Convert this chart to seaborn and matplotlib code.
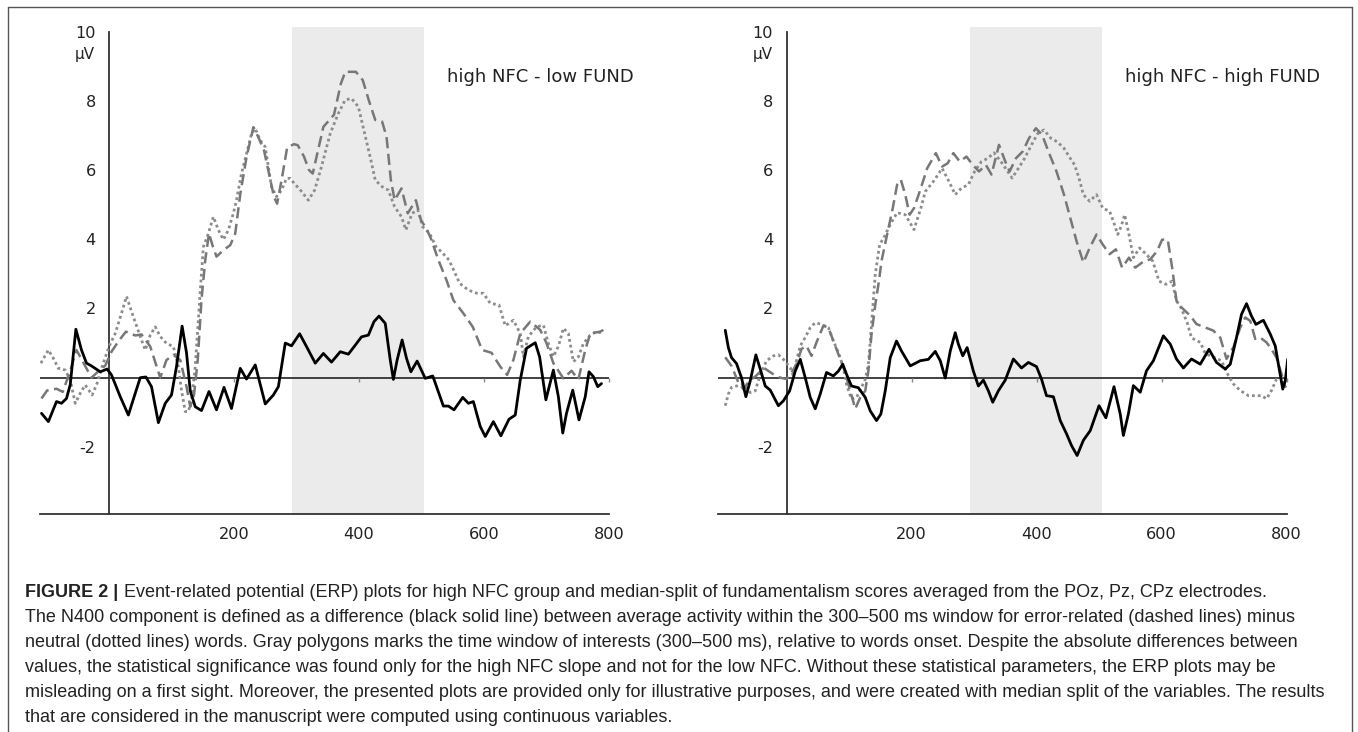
import matplotlib
matplotlib.use('Agg')
import matplotlib.pyplot as plt
import pandas as pd
import seaborn as sns
from matplotlib.lines import Line2D

# ERP traces: (time in ms, amplitude in uV)
left_diff = [(-108, -1.03), (-97, -1.27), (-84, -0.69), (-76, -0.74), (-68, -0.6), (-62, -0.2),
             (-53, 1.40), (-44, 0.80), (-36, 0.42), (-28, 0.34), (-14, 0.17), (-3, 0.25), (4, 0.08),
             (18, -0.55), (31, -1.08), (42, -0.45), (50, 0.0), (59, 0.02), (68, -0.26), (79, -1.3),
             (90, -0.74), (100, -0.5), (108, 0.32), (117, 1.49), (124, 0.72), (130, -0.38),
             (138, -0.84), (148, -0.95), (160, -0.4), (172, -0.93), (184, -0.28), (196, -0.89),
             (210, 0.27), (220, -0.04), (234, 0.37), (250, -0.76), (263, -0.50), (271, -0.26),
             (282, 1.0), (292, 0.92), (305, 1.27), (316, 0.90), (330, 0.42), (343, 0.70), (356, 0.45),
             (370, 0.75), (383, 0.68), (394, 0.94), (404, 1.18), (415, 1.23), (424, 1.62), (432, 1.78),
             (442, 1.57), (450, 0.51), (455, -0.05), (461, 0.51), (469, 1.09), (476, 0.56), (483, 0.17),
             (493, 0.48), (506, -0.02), (518, 0.05), (535, -0.82), (543, -0.82), (552, -0.93),
             (566, -0.57), (575, -0.74), (583, -0.69), (594, -1.41), (602, -1.70), (615, -1.27),
             (627, -1.68), (640, -1.2), (650, -1.08), (658, -0.07), (668, 0.85), (682, 1.01),
             (689, 0.60), (699, -0.64), (711, 0.22), (719, -0.55), (726, -1.60), (732, -1.03),
             (742, -0.36), (752, -1.22), (762, -0.55), (768, 0.17), (775, 0.03), (782, -0.26), (788, -0.17)]

left_error = [(-108, -0.60), (-99, -0.37), (-84, -0.32), (-74, -0.41), (-62, 0.2), (-52, 0.8),
              (-40, 0.4), (-28, 0.0), (-16, 0.2), (-6, 0.35), (4, 0.75), (15, 1.05), (27, 1.33),
              (42, 1.22), (52, 1.25), (66, 0.9), (82, 0.0), (92, 0.51), (103, 0.66), (114, 0.51),
              (124, -0.26), (130, -0.84), (136, -0.5), (142, 0.51), (148, 2.25), (154, 3.4), (160, 4.17),
              (166, 3.8), (172, 3.5), (184, 3.7), (194, 3.83), (202, 4.17), (210, 5.3), (220, 6.37),
              (231, 7.24), (239, 6.95), (248, 6.57), (256, 5.9), (264, 5.22), (269, 5.03), (277, 5.8),
              (285, 6.65), (296, 6.75), (302, 6.72), (312, 6.39), (320, 6.0), (326, 5.9), (343, 7.25),
              (360, 7.6), (371, 8.5), (378, 8.84), (395, 8.84), (406, 8.6), (416, 8.0), (426, 7.45),
              (437, 7.4), (444, 6.97), (451, 5.71), (457, 5.13), (468, 5.47), (478, 4.75), (491, 5.13),
              (499, 4.56), (509, 4.27), (516, 3.98), (527, 3.4), (540, 2.82), (551, 2.24), (567, 1.86),
              (582, 1.47), (597, 0.8), (612, 0.72), (626, 0.32), (637, 0.08), (647, 0.51), (658, 1.28),
              (674, 1.62), (690, 1.38), (700, 1.0), (711, 0.42), (727, -0.02), (740, 0.2), (751, -0.05),
              (762, 0.8), (770, 1.28), (786, 1.33), (791, 1.38)]

left_neutral = [(-109, 0.42), (-97, 0.80), (-89, 0.56), (-81, 0.27), (-70, 0.22), (-62, -0.07),
                (-54, -0.74), (-46, -0.45), (-38, -0.21), (-27, -0.5), (-19, -0.16), (-11, 0.32),
                (0, 0.9), (10, 1.28), (20, 1.86), (28, 2.35), (39, 1.76), (50, 1.19), (58, 0.80),
                (66, 1.23), (74, 1.47), (82, 1.19), (92, 0.99), (103, 0.90), (111, 0.32), (116, -0.36),
                (122, -0.98), (127, -0.98), (132, -0.64), (138, 0.32), (146, 2.5), (151, 3.78),
                (159, 4.17), (167, 4.65), (175, 4.27), (183, 3.99), (191, 4.27), (199, 4.75), (204, 5.13),
                (212, 5.9), (220, 6.47), (228, 7.05), (234, 7.2), (242, 6.86), (250, 6.67), (255, 6.09),
                (260, 5.52), (268, 5.23), (276, 5.42), (284, 5.76), (290, 5.76), (297, 5.6), (305, 5.45),
                (319, 5.13), (329, 5.42), (340, 6.1), (354, 7.06), (367, 7.64), (378, 8.03), (388, 8.07),
                (399, 7.83), (409, 7.06), (419, 6.29), (426, 5.71), (437, 5.52), (447, 5.42), (457, 4.94),
                (468, 4.65), (475, 4.27), (485, 4.75), (494, 4.85), (502, 4.36), (513, 4.17), (523, 3.79),
                (534, 3.6), (544, 3.4), (561, 2.73), (575, 2.53), (589, 2.44), (599, 2.44), (610, 2.15),
                (624, 2.1), (634, 1.5), (647, 1.66), (658, 1.28), (663, 0.61), (671, 1.19), (684, 1.47),
                (695, 1.52), (703, 0.99), (711, 0.61), (719, 0.9), (727, 1.43), (735, 1.28), (743, 0.46),
                (751, 0.6), (759, 0.99), (770, 1.23), (780, 1.33), (791, 1.28)]

right_diff = [(-98, 1.37), (-93, 0.87), (-88, 0.58), (-80, 0.41), (-72, 0.0), (-65, -0.55), (-58, -0.09),
              (-49, 0.66), (-41, 0.19), (-34, -0.24), (-26, -0.36), (-13, -0.81), (-5, -0.67), (5, -0.38),
              (14, 0.19), (22, 0.53), (30, 0.0), (38, -0.57), (46, -0.90), (54, -0.47), (64, 0.15),
              (75, 0.05), (83, 0.19), (90, 0.39), (96, 0.10), (104, -0.24), (115, -0.29), (126, -0.57),
              (134, -0.96), (144, -1.24), (151, -1.05), (158, -0.38), (166, 0.58), (176, 1.06),
              (184, 0.77), (198, 0.34), (214, 0.49), (227, 0.53), (238, 0.76), (246, 0.49), (254, -0.01),
              (262, 0.77), (270, 1.30), (275, 0.97), (282, 0.63), (289, 0.87), (299, 0.19), (307, -0.24),
              (315, -0.07), (323, -0.38), (330, -0.71), (339, -0.38), (350, -0.07), (363, 0.54),
              (376, 0.28), (387, 0.44), (400, 0.32), (408, -0.04), (416, -0.52), (427, -0.55),
              (438, -1.24), (448, -1.62), (456, -1.96), (465, -2.25), (475, -1.81), (486, -1.53),
              (500, -0.81), (511, -1.16), (524, -0.26), (534, -1.05), (539, -1.67), (547, -1.05),
              (555, -0.23), (566, -0.42), (576, 0.20), (587, 0.49), (603, 1.21), (614, 0.97), (624, 0.54),
              (635, 0.28), (648, 0.54), (662, 0.39), (676, 0.82), (688, 0.44), (702, 0.25), (710, 0.39),
              (720, 1.16), (728, 1.83), (736, 2.14), (744, 1.78), (751, 1.54), (763, 1.66), (774, 1.26),
              (782, 0.92), (787, 0.39), (794, -0.33), (798, -0.09), (802, 0.54)]

right_error = [(-98, 0.59), (-88, 0.34), (-77, -0.14), (-69, -0.33), (-60, -0.1), (-49, 0.05), (-36, 0.28),
               (-22, 0.11), (-10, 0.0), (0, -0.04), (6, 0.08), (16, 0.39), (24, 0.83), (32, 0.92), (40, 0.63),
               (48, 1.02), (59, 1.50), (67, 1.45), (75, 1.06), (83, 0.68), (91, 0.30), (96, 0.0),
               (102, -0.38), (110, -0.9), (118, -0.57), (126, -0.38), (131, 0.19), (136, 1.25), (142, 2.1),
               (148, 2.8), (152, 3.37), (161, 4.14), (170, 4.9), (177, 5.58), (183, 5.72), (190, 5.29),
               (197, 4.71), (204, 4.9), (215, 5.48), (225, 6.05), (239, 6.49), (249, 6.1), (258, 6.2),
               (267, 6.49), (277, 6.25), (288, 6.39), (298, 6.15), (308, 5.96), (319, 6.15), (328, 5.87),
               (340, 6.73), (350, 6.25), (357, 5.96), (367, 6.34), (378, 6.54), (388, 6.92), (399, 7.21),
               (409, 7.02), (419, 6.54), (432, 5.96), (444, 5.29), (454, 4.62), (464, 3.95), (475, 3.33),
               (485, 3.75), (496, 4.14), (506, 3.85), (517, 3.57), (527, 3.71), (537, 3.18), (548, 3.47),
               (558, 3.18), (572, 3.37), (582, 3.42), (593, 3.66), (601, 3.99), (610, 3.99), (617, 3.18),
               (624, 2.22), (632, 2.03), (646, 1.79), (656, 1.55), (670, 1.45), (683, 1.36), (694, 1.16),
               (704, 0.54), (715, 0.88), (726, 1.45), (734, 1.74), (742, 1.64), (750, 1.12), (758, 1.16),
               (768, 1.02), (776, 0.82), (784, 0.58), (792, 0.11), (798, -0.28)]

right_neutral = [(-98, -0.81), (-93, -0.47), (-88, -0.28), (-80, -0.24), (-69, -0.19), (-58, -0.43),
                 (-50, -0.38), (-42, 0.09), (-32, 0.49), (-21, 0.63), (-13, 0.66), (-5, 0.53), (6, 0.29),
                 (11, 0.05), (16, 0.5), (22, 0.92), (30, 1.16), (38, 1.45), (46, 1.59), (56, 1.54),
                 (67, 1.45), (75, 1.06), (83, 0.73), (91, 0.30), (96, -0.19), (104, -0.62), (112, -0.57),
                 (120, -0.28), (126, -0.05), (131, 0.38), (134, 1.06), (138, 2.02), (142, 2.98), (149, 3.85),
                 (156, 4.05), (166, 4.43), (177, 4.77), (190, 4.71), (204, 4.28), (215, 4.9), (222, 5.38),
                 (235, 5.67), (249, 6.05), (260, 5.67), (270, 5.29), (280, 5.48), (291, 5.58), (301, 5.96),
                 (312, 6.25), (322, 6.34), (332, 6.5), (343, 6.25), (354, 5.96), (361, 5.77), (371, 6.05),
                 (381, 6.34), (392, 6.73), (402, 7.06), (412, 7.16), (423, 6.92), (433, 6.82), (444, 6.63),
                 (454, 6.34), (461, 6.15), (468, 5.77), (475, 5.29), (485, 5.10), (496, 5.29), (506, 4.9),
                 (517, 4.81), (523, 4.52), (530, 4.14), (536, 4.4), (541, 4.71), (548, 4.14), (555, 3.47),
                 (565, 3.75), (576, 3.56), (586, 3.37), (596, 2.79), (607, 2.70), (617, 2.79), (624, 2.22),
                 (631, 2.03), (641, 1.6), (648, 1.15), (662, 1.02), (670, 0.7), (683, 0.59), (696, 0.49),
                 (707, 0.06), (715, -0.18), (726, -0.37), (739, -0.52), (750, -0.52), (760, -0.52),
                 (768, -0.61), (776, -0.37), (784, -0.04), (792, 0.0), (800, -0.28)]

panel_titles = ['high NFC - low FUND', 'high NFC - high FUND']
window = (293, 504)
x_ticks = [200, 400, 600, 800]
y_ticks = [-2, 2, 4, 6, 8, 10]
y_ticklabels = ['-2', '2', '4', '6', '8', '10']

caption_bold = 'FIGURE 2 |'
caption_lines = [
    'Event-related potential (ERP) plots for high NFC group and median-split of fundamentalism scores averaged from the POz, Pz, CPz electrodes.',
    'The N400 component is defined as a difference (black solid line) between average activity within the 300\u2013500 ms window for error-related (dashed lines) minus',
    'neutral (dotted lines) words. Gray polygons marks the time window of interests (300\u2013500 ms), relative to words onset. Despite the absolute differences between',
    'values, the statistical significance was found only for the high NFC slope and not for the low NFC. Without these statistical parameters, the ERP plots may be',
    'misleading on a first sight. Moreover, the presented plots are provided only for illustrative purposes, and were created with median split of the variables. The results',
    'that are considered in the manuscript were computed using continuous variables.',
]

W, H = 1358, 732
XMIN, XMAX = -110, 800
YMIN, YMAX = -3.94, 10.13
PX_PER_MS = 0.625

sns.set_style('white')
plt.rcParams['font.family'] = ['DejaVu Sans']

fig = plt.figure(figsize=(W / 100, H / 100), dpi=100)


def axes_rect(zero_px, top_px=27.2, bottom_px=514):
    left = zero_px + XMIN * PX_PER_MS
    width = (XMAX - XMIN) * PX_PER_MS
    return [left / W, 1 - bottom_px / H, width / W, (bottom_px - top_px) / H]


def draw_panel(ax, diff, error, neutral, title):
    ax.axvspan(*window, color='#ebebeb', lw=0, zorder=0)
    ax.axhline(0, color='#333333', lw=1.3, zorder=1.5)
    traces = [(neutral, '#8c8c8c', 2.0, (0, (1, 1.1))),
              (error, '#777777', 1.8, (0, (4.5, 2.2))),
              (diff, '#000000', 2.0, '-')]
    for pts, color, lw, ls in traces:
        df = pd.DataFrame(pts, columns=['t', 'uv'])
        sns.lineplot(data=df, x='t', y='uv', ax=ax, color=color, linewidth=lw,
                     linestyle=ls, estimator=None, sort=False, zorder=3)

    ax.set_xlim(XMIN, XMAX)
    ax.set_ylim(YMIN, YMAX)
    ax.set_xlabel('')
    ax.set_ylabel('')
    ax.spines['top'].set_visible(False)
    ax.spines['right'].set_visible(False)
    ax.spines['left'].set_position(('data', 0))
    ax.spines['left'].set_bounds(YMIN, 10)
    for s in ['left', 'bottom']:
        ax.spines[s].set_color('#333333')
        ax.spines[s].set_linewidth(1.3)
    ax.set_xticks(x_ticks)
    ax.set_xticklabels([str(t) for t in x_ticks])
    ax.set_yticks(y_ticks)
    ax.set_yticklabels(y_ticklabels)
    ax.tick_params(axis='x', length=3.6, width=1, color='#555555', pad=5.5,
                   labelsize=11.6, labelcolor='#222222')
    ax.tick_params(axis='y', length=4.6, width=1, color='#555555', pad=5,
                   labelsize=11.6, labelcolor='#222222')

    # small ticks hanging under the zero line
    sec = ax.secondary_xaxis((0 - YMIN) / (YMAX - YMIN))
    sec.set_xticks(x_ticks)
    sec.tick_params(direction='out', length=3, width=1, color='#888888', labelbottom=False)
    sec.spines['bottom'].set_visible(False)
    sec.set_zorder(1.6)

    ax.text(-22, 9.33, '\u00b5V', ha='right', va='center', fontsize=11, color='#222222')
    ax.text(541, 8.7, title, ha='left', va='center', fontsize=13, color='#222222')


ax1 = fig.add_axes(axes_rect(109))
ax2 = fig.add_axes(axes_rect(786.5))
draw_panel(ax1, left_diff, left_error, left_neutral, panel_titles[0])
draw_panel(ax2, right_diff, right_error, right_neutral, panel_titles[1])

# frame around the figure
frame_kw = dict(color='#555555', lw=1, transform=fig.transFigure)
fig.add_artist(Line2D([8 / W, 8 / W], [0, 1 - 7 / H], **frame_kw))
fig.add_artist(Line2D([8 / W, 1352 / W], [1 - 7 / H, 1 - 7 / H], **frame_kw))
fig.add_artist(Line2D([1352 / W, 1352 / W], [0, 1 - 7 / H], **frame_kw))

# caption, sized so the longest line fills its width
cap_font = 'Liberation Sans'
probe = fig.text(25 / W, 0.5, caption_lines[4], fontsize=12, family=cap_font)
fig.canvas.draw()
renderer = fig.canvas.get_renderer()
cap_fs = 12 * (1324 - 25) / probe.get_window_extent(renderer).width
probe.remove()

baselines = [597, 622, 647, 672, 697, 722]
bold = fig.text(25 / W, 1 - baselines[0] / H, caption_bold, fontsize=cap_fs, fontweight='bold',
                family=cap_font, va='baseline', color='#222222')
bx = bold.get_window_extent(renderer).x1
fig.text((bx + 6) / W, 1 - baselines[0] / H, caption_lines[0], fontsize=cap_fs,
         family=cap_font, va='baseline', color='#222222')
for line, base in zip(caption_lines[1:], baselines[1:]):
    fig.text(25 / W, 1 - base / H, line, fontsize=cap_fs, family=cap_font,
             va='baseline', color='#222222')

fig.savefig('out.png', dpi=100)
